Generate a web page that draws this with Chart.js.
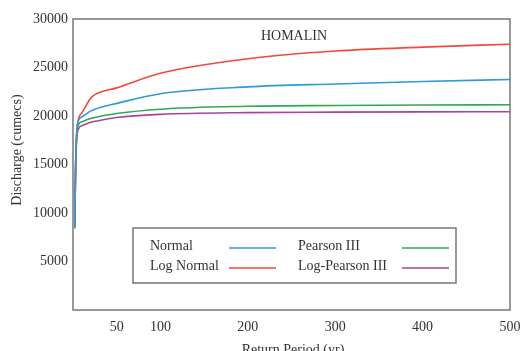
<!DOCTYPE html>
<html>
<head>
<meta charset="utf-8">
<script src="https://cdn.jsdelivr.net/npm/chart.js@4"></script>
<style>
  html, body { margin: 0; padding: 0; background: #fff; }
  #wrap { width: 521px; height: 351px; }
</style>
</head>
<body>
<div id="wrap"><canvas id="chart" width="521" height="351"></canvas></div>
<script>
// return periods (yr) and discharge (cumecs)
const returnPeriods = [2, 3, 5, 10, 20, 25, 50, 100, 200, 300, 400, 500];
const normal = [8500, 15000, 19100, 19900, 20500, 20700, 21300, 22300, 23000, 23300, 23550, 23770];
const logNormal = [8500, 15000, 19000, 20300, 21800, 22200, 22900, 24400, 25900, 26700, 27100, 27400];
const pearson3 = [8400, 14800, 18700, 19400, 19750, 19850, 20250, 20700, 21000, 21080, 21130, 21160];
const logPearson3 = [8600, 14500, 18300, 19000, 19350, 19450, 19850, 20170, 20350, 20400, 20430, 20440];
const xTicks = [50, 100, 200, 300, 400, 500];

const SERIF = "'Liberation Serif', 'DejaVu Serif', serif";

const series = [
  { label: "Normal", data: normal, color: "#2f9ad6" },
  { label: "Log Normal", data: logNormal, color: "#ef4a3c" },
  { label: "Pearson III", data: pearson3, color: "#2eaa52" },
  { label: "Log-Pearson III", data: logPearson3, color: "#a8449f" },
];

// box, title, axis titles and the in-plot legend
const decorations = {
  id: "decorations",
  afterDraw(chart) {
    const ctx = chart.ctx;
    const a = chart.chartArea;
    ctx.save();
    ctx.strokeStyle = "#777";
    ctx.lineWidth = 1.5;
    ctx.strokeRect(a.left, a.top, a.right - a.left, a.bottom - a.top);

    ctx.fillStyle = "#333";
    ctx.font = "14px " + SERIF;
    ctx.textAlign = "center";
    ctx.textBaseline = "middle";
    ctx.fillText("HOMALIN", 294, 36);

    ctx.textBaseline = "alphabetic";
    ctx.fillText("Return Period (yr)", 293, 354);

    ctx.save();
    ctx.translate(21, 150);
    ctx.rotate(-Math.PI / 2);
    ctx.fillText("Discharge (cumecs)", 0, 0);
    ctx.restore();

    // legend box
    ctx.fillStyle = "#fff";
    ctx.fillRect(133, 228, 323, 55);
    ctx.strokeStyle = "#777";
    ctx.strokeRect(133, 228, 323, 55);

    const slots = [
      { tx: 150, lx: 229, y: 246 },
      { tx: 150, lx: 229, y: 266 },
      { tx: 298, lx: 402, y: 246 },
      { tx: 298, lx: 402, y: 266 },
    ];
    ctx.textAlign = "left";
    ctx.textBaseline = "middle";
    chart.data.datasets.forEach((ds, i) => {
      const s = slots[i];
      ctx.fillStyle = "#333";
      ctx.fillText(ds.label, s.tx, s.y);
      ctx.strokeStyle = ds.borderColor;
      ctx.lineWidth = 1.5;
      ctx.beginPath();
      ctx.moveTo(s.lx, s.y + 2);
      ctx.lineTo(s.lx + 47, s.y + 2);
      ctx.stroke();
    });
    ctx.restore();
  },
};

new Chart(document.getElementById("chart"), {
  type: "line",
  data: {
    datasets: series.map((s) => ({
      label: s.label,
      data: returnPeriods.map((rp, i) => ({ x: rp, y: s.data[i] })),
      borderColor: s.color,
      backgroundColor: s.color,
      borderWidth: 1.6,
      cubicInterpolationMode: "monotone",
      pointRadius: 0,
      fill: false,
    })),
  },
  options: {
    responsive: false,
    animation: false,
    layout: { padding: { left: 0, top: 19, right: 11, bottom: 0 } },
    plugins: {
      legend: { display: false },
      tooltip: { enabled: false },
    },
    scales: {
      x: {
        type: "linear",
        min: 0,
        max: 500,
        grid: { display: false, drawTicks: false },
        border: { display: false },
        afterBuildTicks: (scale) => {
          scale.ticks = xTicks.map((v) => ({ value: v }));
        },
        afterFit: (scale) => {
          scale.height = 41;
          scale.paddingLeft = 0;
          scale.paddingRight = 0;
        },
        ticks: {
          padding: 9,
          maxRotation: 0,
          autoSkip: false,
          color: "#333",
          font: { family: SERIF, size: 14 },
        },
      },
      y: {
        min: 0,
        max: 30000,
        grid: { display: false, drawTicks: false },
        border: { display: false },
        afterFit: (scale) => {
          scale.width = 73;
          scale.paddingTop = 0;
          scale.paddingBottom = 0;
        },
        ticks: {
          stepSize: 5000,
          padding: 5,
          color: "#333",
          font: { family: SERIF, size: 14 },
          callback: (v) => (v === 0 ? "" : String(v)),
        },
      },
    },
  },
  plugins: [decorations],
});
</script>
</body>
</html>
